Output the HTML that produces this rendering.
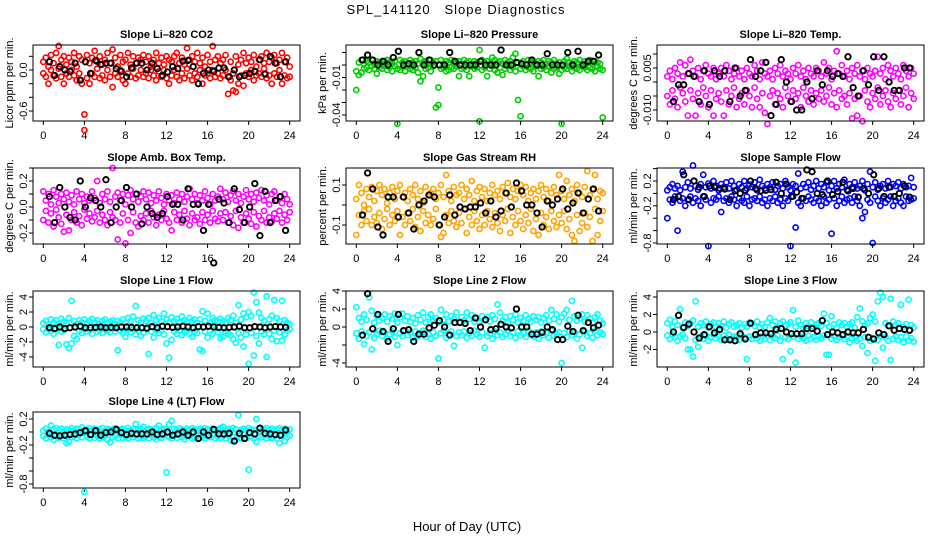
<!DOCTYPE html>
<html><head><meta charset="utf-8">
<style>
html,body{margin:0;padding:0;background:#fff;}
svg{display:block;font-family:"Liberation Sans",Arial,sans-serif;}
</style></head>
<body>
<svg id="chart" width="936" height="540" viewBox="0 0 936 540" xmlns="http://www.w3.org/2000/svg">
<rect width="936" height="540" fill="#fff"/>
<text x="456" y="14" font-size="13" letter-spacing="1" text-anchor="middle" xml:space="preserve">SPL_141120   Slope Diagnostics</text>
<text x="467" y="531" font-size="13" text-anchor="middle">Hour of Day (UTC)</text>
<g id="panels"></g>
</svg>
<script>
const hours = [0,0.25,0.5,0.75,1,1.25,1.5,1.75,2,2.25,
2.5,2.75,3,3.25,3.5,3.75,4,4.25,4.5,4.75,
5,5.25,5.5,5.75,6,6.25,6.5,6.75,7,7.25,
7.5,7.75,8,8.25,8.5,8.75,9,9.25,9.5,9.75,
10,10.25,10.5,10.75,11,11.25,11.5,11.75,12,12.25,
12.5,12.75,13,13.25,13.5,13.75,14,14.25,14.5,14.75,
15,15.25,15.5,15.75,16,16.25,16.5,16.75,17,17.25,
17.5,17.75,18,18.25,18.5,18.75,19,19.25,19.5,19.75,
20,20.25,20.5,20.75,21,21.25,21.5,21.75,22,22.25,
22.5,22.75,23,23.25,23.5,23.75,24];
const blackHours = [0.6,1.1,1.6,2.1,2.6,3.1,3.6,4.1,4.6,5.1,
5.6,6.1,6.6,7.1,7.6,8.1,8.6,9.1,9.6,10.1,
10.6,11.1,11.6,12.1,12.6,13.1,13.6,14.1,14.6,15.1,
15.6,16.1,16.6,17.1,17.6,18.1,18.6,19.1,19.6,20.1,
20.6,21.1,21.6,22.1,22.6,23.1,23.6];
const xTicks = [0,4,8,12,16,20,24];

const co2A = [0.12,0.18,0.05,0.22,0.1,0.25,0.35,0.15,0.2,0.08,0.18,0.12,0.25,0.05,0.2,0.15,-0.88,0.22,0.1,0.18,0.28,0.12,0.2,0.08,0.15,0.25,0.1,0.3,0.18,0.05,0.22,0.12,0.15,0.25,0.08,0.2,0.1,0.18,0.15,0.22,0.12,0.2,0.05,0.15,0.25,0.1,0.18,0.08,0.2,0.15,0.12,0.2,0.25,0.1,0.18,0.08,0.32,0.15,0.2,0.12,0.25,0.1,0.18,0.05,0.22,0.12,0.35,0.15,0.2,0.1,0.15,0.22,-0.35,0.12,-0.3,0.2,0.08,0.15,0.25,0.1,0.18,0.12,0.22,0.05,0.15,0.2,0.1,0.25,0.12,0.18,0.22,0.1,0.15,0.25,0.12,0.18,0.05];
const co2B = [-0.05,-0.1,-0.2,0.0,-0.08,-0.12,0.02,-0.1,-0.2,-0.05,-0.1,0.0,-0.08,-0.15,-0.05,-0.2,-0.65,-0.12,-0.2,-0.05,-0.1,0.02,-0.12,-0.08,-0.15,0.0,-0.1,-0.25,-0.05,-0.1,0.0,-0.15,-0.2,-0.05,-0.1,0.02,-0.12,-0.08,0.0,-0.1,-0.05,-0.12,0.0,-0.08,-0.15,-0.02,-0.1,0.0,-0.12,-0.2,-0.08,0.0,-0.1,-0.15,-0.05,-0.12,0.02,-0.08,-0.15,-0.05,-0.1,0.0,-0.2,-0.08,-0.05,-0.12,0.0,-0.1,-0.05,-0.12,-0.08,0.0,-0.1,-0.15,-0.05,-0.32,-0.2,-0.08,-0.23,-0.05,-0.1,0.0,-0.15,-0.08,-0.05,-0.1,0.02,-0.12,-0.08,-0.2,-0.05,-0.1,0.0,-0.2,-0.08,-0.12,-0.1];
const co2K = [0.12,-0.08,0.05,0.0,-0.02,0.1,-0.15,0.12,-0.05,0.14,0.08,0.1,0.1,0.02,-0.02,-0.1,0.03,0.1,0.1,0.0,0.1,0.02,-0.08,-0.03,0.05,0.02,0.13,0.14,0.05,-0.2,-0.05,0.0,-0.02,0.03,0.03,-0.1,0.0,-0.1,-0.08,-0.05,-0.02,0.15,-0.06,0.2,0.1,-0.1,0.12];

const presA = [-0.02,0.002,0.004,0.001,0.003,0.002,0.004,0.001,0.003,0.002,0.001,0.003,0.004,0.002,0.001,0.003,-0.047,0.004,0.002,0.003,0.001,0.004,0.002,0.003,0.001,0.005,0.002,0.003,0.001,0.004,0.002,0.003,-0.032,0.004,0.001,0.003,0.002,0.004,0.001,0.002,0.003,0.001,0.004,0.002,0.003,0.001,0.003,0.002,0.012,0.004,0.002,0.003,0.001,0.006,0.004,0.002,0.003,0.001,0.004,0.002,0.003,0.006,0.009,0.002,-0.041,0.003,0.001,0.004,0.002,0.003,0.001,0.003,0.002,0.004,0.001,0.003,0.002,0.004,0.001,0.002,-0.047,0.003,0.005,0.002,0.001,0.003,0.002,0.004,0.001,0.003,0.002,0.004,0.001,0.003,0.002,0.001,-0.042];
const presB = [-0.005,-0.008,-0.006,-0.003,-0.002,-0.004,-0.001,-0.003,-0.007,-0.002,-0.003,-0.001,-0.004,-0.002,-0.005,-0.001,-0.003,-0.004,-0.002,-0.005,-0.001,-0.003,-0.004,-0.002,-0.006,-0.013,-0.009,-0.003,-0.002,-0.005,-0.001,-0.034,-0.018,-0.003,-0.002,-0.005,-0.004,-0.002,-0.003,-0.001,-0.009,-0.003,-0.002,-0.004,-0.009,-0.001,-0.003,-0.002,-0.045,-0.004,-0.002,-0.009,-0.003,-0.001,-0.004,-0.006,-0.002,-0.008,-0.003,-0.001,-0.004,-0.002,-0.005,-0.028,-0.003,-0.001,-0.004,-0.002,-0.003,-0.005,-0.001,-0.009,-0.003,-0.002,-0.004,-0.001,-0.006,-0.003,-0.002,-0.007,-0.004,-0.002,-0.003,-0.001,-0.005,-0.002,-0.003,-0.004,-0.001,-0.002,-0.004,-0.002,-0.003,-0.005,-0.001,-0.003,-0.004];
const presK = [0.004,0.008,0.004,0.0,0.003,0.0,0.006,0.011,0.0,0.001,0.0,0.01,0.0,0.004,0.0,0.0,0.0,0.01,0.003,0.0,0.0,0.0,0.0,0.003,0.0,0.0,0.0,0.012,0.0,0.0,0.002,0.001,0.0,0.004,0.0,0.0,0.009,0.0,0.0,0.0,0.01,0.0,0.011,0.0,0.003,0.003,0.008];

const tempA = [0.002,0.004,0.001,0.005,0.003,0.007,0.002,0.006,0.003,0.008,0.004,0.002,0.005,0.001,0.004,0.006,0.003,0.002,0.005,0.001,0.003,0.005,0.002,0.006,0.004,0.001,0.003,0.005,0.002,0.004,0.001,0.005,0.003,0.002,0.006,0.004,0.001,0.007,0.003,0.002,0.004,0.001,0.005,0.003,0.006,0.002,0.004,0.003,0.001,0.005,0.003,0.006,0.002,0.004,0.001,0.005,0.003,0.002,0.005,0.004,0.002,0.007,0.003,0.005,0.001,0.004,0.011,0.003,0.006,0.002,0.004,0.001,0.005,0.003,0.006,0.002,0.004,0.001,0.005,0.003,0.002,0.004,0.009,0.003,0.005,0.001,0.006,0.004,0.002,0.005,0.003,0.001,0.006,0.004,0.002,0.005,0.003];
const tempB = [-0.005,-0.008,-0.003,-0.006,-0.009,-0.002,-0.004,-0.007,-0.012,-0.003,-0.006,-0.012,-0.004,-0.008,-0.002,-0.005,-0.009,-0.003,-0.012,-0.006,-0.004,-0.007,-0.012,-0.003,-0.008,-0.005,-0.002,-0.009,-0.006,-0.004,-0.008,-0.003,-0.005,-0.009,-0.002,-0.006,-0.009,-0.004,-0.011,-0.015,-0.005,-0.003,-0.008,-0.004,-0.006,-0.009,-0.002,-0.005,-0.007,-0.003,-0.006,-0.004,-0.009,-0.002,-0.005,-0.007,-0.003,-0.008,-0.004,-0.006,-0.003,-0.007,-0.005,-0.002,-0.008,-0.004,-0.009,-0.003,-0.006,-0.005,-0.008,-0.004,-0.013,-0.006,-0.012,-0.005,-0.014,-0.003,-0.007,-0.009,-0.004,-0.006,-0.002,-0.008,-0.005,-0.003,-0.007,-0.009,-0.004,-0.006,-0.003,-0.008,-0.005,-0.002,-0.009,-0.004,-0.006];
const tempK = [-0.007,-0.001,-0.001,0.003,0.002,-0.007,0.004,-0.008,0.004,0.002,0.004,-0.007,0.005,-0.005,-0.003,0.008,0.002,0.004,0.007,-0.012,-0.008,0.008,0.0,-0.007,-0.01,-0.01,0.0,-0.006,0.004,-0.001,0.004,0.002,0.003,0.002,0.009,-0.002,-0.005,0.004,-0.001,0.009,-0.003,0.009,0.0,-0.003,-0.003,0.005,0.005];

const ambA = [0.12,0.05,0.1,0.02,0.13,0.08,0.03,0.1,0.06,0.11,0.04,0.09,0.02,0.12,0.06,0.1,0.03,0.08,0.05,0.12,0.07,0.2,0.03,0.1,0.06,0.12,0.04,0.3,0.08,0.11,0.05,0.1,0.02,0.09,0.13,0.06,0.1,0.04,0.08,0.12,0.06,0.11,0.03,0.09,0.05,0.12,0.07,0.02,0.1,0.05,0.09,0.03,0.11,0.06,0.1,0.04,0.08,0.14,0.06,0.1,0.03,0.09,0.05,0.12,0.07,0.02,0.1,0.05,0.08,0.14,0.06,0.11,0.04,0.09,0.12,0.05,0.1,0.03,0.08,0.13,0.06,0.1,0.04,0.11,0.07,0.13,0.05,0.09,0.02,0.1,0.12,0.05,0.08,0.03,0.1,0.06,0.02];
const ambB = [-0.1,-0.03,-0.12,-0.05,-0.15,-0.02,-0.08,-0.13,-0.19,-0.06,-0.18,-0.1,-0.04,-0.12,-0.07,-0.14,-0.02,-0.09,-0.05,-0.11,-0.08,-0.03,-0.12,-0.06,-0.1,-0.14,-0.04,-0.08,-0.1,-0.25,-0.12,-0.05,-0.28,-0.1,-0.2,-0.04,-0.12,-0.15,-0.07,-0.1,-0.05,-0.12,-0.03,-0.08,-0.14,-0.06,-0.1,-0.03,-0.09,-0.12,-0.18,-0.04,-0.1,-0.06,-0.12,-0.03,-0.09,-0.14,-0.05,-0.1,-0.08,-0.13,-0.04,-0.1,-0.06,-0.12,-0.03,-0.09,-0.11,-0.05,-0.1,-0.04,-0.12,-0.07,-0.14,-0.03,-0.16,-0.08,-0.12,-0.05,-0.09,-0.13,-0.04,-0.15,-0.07,-0.1,-0.03,-0.12,-0.08,-0.11,-0.05,-0.09,-0.03,-0.12,-0.06,-0.1,-0.04];
const ambK = [0.08,-0.12,0.15,0.0,-0.08,-0.1,0.2,0.0,0.07,0.05,0.0,0.21,-0.12,0.0,0.05,0.15,0.0,0.1,-0.13,0.0,-0.05,-0.08,-0.05,0.08,0.02,0.02,-0.1,0.14,0.02,0.02,-0.18,0.02,-0.43,0.06,0.03,-0.12,0.14,-0.02,-0.12,0.0,0.18,-0.22,0.12,-0.12,0.05,0.08,-0.18];

const rhA = [0.03,0.1,0.06,0.0,0.08,0.04,0.09,0.02,0.07,0.1,0.05,0.08,0.01,0.06,0.09,0.03,0.07,0.1,0.04,0.06,0.02,0.08,0.05,0.1,0.03,0.07,0.01,0.09,0.05,0.06,0.08,0.03,0.06,0.1,0.04,0.15,0.07,0.02,0.09,0.05,0.06,0.1,0.03,0.08,0.05,0.12,0.02,0.07,0.09,0.04,0.08,0.02,0.06,0.1,0.05,0.07,0.03,0.09,0.06,0.11,0.04,0.08,0.03,0.07,0.1,0.05,0.09,0.02,0.06,0.08,0.03,0.07,0.1,0.04,0.08,0.02,0.06,0.09,0.05,0.15,0.07,0.03,0.12,0.05,0.08,0.02,0.1,0.06,0.04,0.09,0.17,0.05,0.08,0.15,0.03,0.07,0.06];
const rhB = [-0.15,-0.05,-0.1,-0.03,-0.08,-0.02,-0.1,-0.06,-0.09,-0.04,-0.12,-0.07,-0.02,-0.1,-0.05,-0.08,-0.03,-0.15,-0.06,-0.1,-0.04,-0.08,-0.02,-0.11,-0.06,-0.13,-0.03,-0.09,-0.05,-0.1,-0.07,-0.02,-0.1,-0.16,-0.14,-0.05,-0.09,-0.03,-0.08,-0.11,-0.04,-0.09,-0.02,-0.14,-0.06,-0.1,-0.03,-0.08,-0.12,-0.05,-0.1,-0.03,-0.07,-0.11,-0.04,-0.09,-0.13,-0.05,-0.08,-0.02,-0.14,-0.06,-0.1,-0.03,-0.08,-0.12,-0.05,-0.09,-0.02,-0.13,-0.07,-0.15,-0.04,-0.1,-0.06,-0.12,-0.03,-0.08,-0.11,-0.05,-0.09,-0.03,-0.12,-0.07,-0.15,-0.18,-0.05,-0.13,-0.09,-0.04,-0.11,-0.06,-0.18,-0.02,-0.15,-0.08,-0.03];
const rhK = [-0.05,0.16,0.08,-0.11,-0.15,0.04,0.04,-0.06,0.04,-0.04,-0.12,0.0,0.02,0.05,0.04,-0.1,-0.06,0.05,-0.05,-0.01,-0.02,-0.01,-0.01,0.01,-0.04,0.02,-0.06,-0.03,0.06,-0.01,0.11,0.07,0.0,0.0,-0.04,-0.11,0.02,0.0,0.03,0.08,-0.02,0.01,0.06,-0.04,0.03,0.08,-0.03];

const flowA = [0.05,0.1,0.15,0.08,0.12,0.05,0.35,0.1,0.18,0.08,0.45,0.12,0.06,0.15,0.3,0.1,0.16,0.08,0.2,0.12,0.05,0.15,0.1,0.18,0.08,0.2,0.12,0.06,0.15,0.1,0.2,0.08,0.14,0.1,0.18,0.05,0.22,0.12,0.08,0.15,0.1,0.18,0.06,0.12,0.15,0.08,0.2,0.1,0.05,0.15,0.12,0.32,0.08,0.15,0.1,0.18,0.06,0.12,0.2,0.08,0.15,0.1,0.18,0.05,0.12,0.2,0.08,0.15,0.1,0.22,0.06,0.15,0.1,0.18,0.08,0.12,0.2,0.05,0.15,0.35,0.1,0.18,0.06,0.12,0.15,0.08,0.2,0.1,0.15,0.12,0.18,0.08,0.15,0.1,0.12,0.25,0.1];
const flowB = [-0.4,-0.1,-0.15,-0.05,-0.6,-0.12,-0.08,-0.2,-0.1,-0.05,-0.15,-0.08,-0.12,-0.2,-0.05,-0.1,-0.85,-0.15,-0.08,-0.1,-0.05,-0.3,-0.12,-0.08,-0.15,-0.05,-0.1,-0.2,-0.08,-0.12,-0.15,-0.05,-0.2,-0.1,-0.08,-0.12,-0.05,-0.15,-0.1,-0.2,-0.08,-0.12,-0.05,-0.15,-0.1,-0.2,-0.08,-0.12,-0.85,-0.05,-0.55,-0.15,-0.2,-0.08,-0.12,-0.05,-0.1,-0.15,-0.08,-0.12,-0.2,-0.05,-0.15,-0.1,-0.65,-0.08,-0.2,-0.12,-0.05,-0.15,-0.1,-0.08,-0.15,-0.05,-0.12,-0.2,-0.4,-0.3,-0.1,-0.15,-0.8,-0.05,-0.12,-0.2,-0.08,-0.15,-0.1,-0.05,-0.2,-0.12,-0.08,-0.15,-0.2,-0.05,-0.12,-0.1,-0.08];
const flowK = [-0.1,-0.05,0.3,-0.1,0.2,0.1,-0.05,0.12,0.1,0.08,0.07,-0.1,0.04,0.0,0.05,0.2,0.08,0.04,0.05,0.06,0.18,0.0,0.15,-0.05,0.02,-0.08,0.38,0.35,0.0,-0.02,0.2,-0.02,0.03,0.18,0.04,0.08,-0.06,0.08,0.0,0.3,0.08,-0.05,0.1,-0.05,0.0,0.12,-0.06];

const l1A = [0.5,0.8,0.3,1.0,0.6,0.9,0.4,1.1,0.7,0.5,1.2,3.5,0.8,0.4,0.9,0.6,1.0,0.5,0.8,1.1,0.6,0.9,0.4,0.8,1.0,0.5,0.7,0.9,0.4,0.8,0.6,1.0,0.5,1.2,0.8,1.4,2.8,0.9,0.6,1.1,0.8,1.2,0.5,1.6,0.9,1.2,0.7,1.8,1.0,0.6,1.3,0.8,1.1,0.6,1.4,0.9,0.7,1.2,0.8,1.0,0.6,1.0,2.1,0.8,1.8,0.5,1.2,0.9,0.7,1.1,0.8,0.5,1.2,0.9,1.5,0.6,2.9,1.0,1.8,1.3,2.0,1.5,4.6,3.3,1.9,1.2,0.8,4.1,1.0,1.5,3.6,1.2,0.8,3.5,0.9,0.6,0.4];
const l1B = [-0.3,-0.7,-0.2,-0.5,-0.9,-0.3,-2.4,-0.6,-0.4,-2.3,-2.8,-2.2,-1.2,-1.6,-0.5,-0.8,-0.3,-0.6,-0.4,-0.9,-0.2,-0.6,-0.4,-0.8,-0.3,-0.5,-0.7,-0.2,-0.6,-3.1,-0.5,-0.8,-1.3,-0.4,-0.7,-0.3,-1.0,-0.5,-1.2,-0.8,-0.3,-3.6,-0.6,-1.4,-0.4,-0.8,-0.5,-1.0,-2.2,-4.1,-1.7,-0.6,-0.9,-0.4,-1.1,-0.7,-0.5,-0.9,-1.3,-0.6,-0.8,-3.0,-3.2,-0.6,-1.4,-0.5,-0.9,-0.3,-0.7,-1.5,-1.3,-0.6,-0.9,-1.1,-1.6,-2.1,-0.8,-1.4,-2.6,-1.0,-4.9,-0.8,-3.8,-1.2,-2.2,-0.6,-1.0,-4.0,-0.9,-1.6,-0.5,-1.9,-0.7,-1.8,-1.0,-0.4,-0.3];
const l1K = [-0.1,-0.2,0.0,-0.2,-0.1,0.0,0.1,-0.1,-0.1,-0.05,0.0,-0.1,-0.05,-0.1,0.0,0.0,-0.05,-0.1,-0.1,-0.15,0.05,-0.1,0.1,0.05,-0.05,0.0,0.1,0.0,-0.1,0.05,0.0,0.1,0.0,-0.05,-0.1,-0.05,0.0,0.1,-0.1,-0.1,0.05,0.0,-0.1,0.0,0.05,0.0,-0.05];

const l2A = [2.2,1.0,0.6,1.4,0.8,3.3,1.8,0.5,1.2,0.7,1.0,1.4,0.6,1.2,0.9,1.5,0.5,1.1,1.5,0.7,1.2,0.6,1.0,0.4,1.3,0.8,1.6,0.5,1.1,1.4,0.7,1.0,0.5,1.9,0.8,1.4,0.6,1.2,0.9,1.6,0.5,1.1,0.7,1.6,0.9,1.3,0.6,1.0,0.5,1.2,0.8,1.1,0.6,1.3,0.9,2.5,1.6,0.7,1.1,0.5,1.2,0.8,1.4,0.5,1.0,0.7,1.3,0.9,0.6,1.2,0.8,1.1,0.5,1.0,1.3,0.7,1.9,0.9,1.4,0.6,1.1,1.5,1.9,0.8,2.9,1.2,0.7,1.0,1.4,0.6,1.3,0.9,0.5,1.1,1.4,0.7,0.4];
const l2B = [-0.7,-1.3,-0.5,-1.9,-1.0,-0.6,-2.5,-1.2,-0.8,-0.4,-1.0,-0.6,-1.3,-0.8,-0.5,-1.1,-2.0,-0.7,-1.0,-0.4,-0.9,-0.6,-1.2,-0.5,-1.0,-0.7,-0.4,-1.1,-0.8,-1.3,-0.6,-1.0,-3.5,-0.7,-0.4,-1.2,-0.8,-0.5,-2.1,-1.0,-0.6,-0.9,-0.5,-1.2,-0.7,-1.0,-0.4,-0.8,-1.1,-0.6,-2.3,-1.0,-0.7,-1.3,-0.5,-0.9,-0.6,-1.1,-0.8,-0.4,-1.0,-0.6,-1.2,-0.5,-0.9,-0.7,-1.1,-0.4,-0.8,-1.0,-0.6,-1.3,-0.5,-0.9,-0.7,-1.2,-0.4,-1.0,-0.8,-0.6,-4.0,-0.7,-1.1,-0.5,-0.9,-0.6,-1.3,-0.8,-2.3,-0.5,-1.0,-0.7,-1.2,-0.4,-0.9,-0.6,-0.8];
const l2K = [-0.9,3.7,-0.2,1.4,-0.5,-1.6,-0.2,1.4,-0.4,-0.3,-1.6,-0.8,-0.8,-0.1,0.2,0.7,0.0,-0.9,0.5,0.5,0.4,-0.4,1.0,0.0,0.8,-0.3,-0.2,0.3,0.0,-0.1,2.0,0.0,0.0,-0.8,-0.8,-0.6,0.0,-0.3,-1.4,-1.4,0.1,-0.5,1.3,-0.4,0.5,-0.1,0.2];

const l3A = [1.0,1.4,0.6,1.2,0.8,2.6,0.5,1.1,0.7,1.0,1.3,3.5,0.6,1.0,0.8,1.2,0.5,0.9,1.1,0.6,1.0,0.7,1.2,0.5,0.9,1.1,0.6,0.8,1.0,0.5,0.9,0.6,1.1,1.0,0.7,1.2,0.5,0.9,0.6,1.1,1.6,0.8,1.2,0.5,1.0,1.2,0.7,0.9,1.1,2.5,0.6,1.3,0.8,0.5,1.0,0.7,1.1,0.6,0.9,1.0,0.7,2.1,1.0,0.6,1.8,0.9,0.5,1.1,0.8,1.0,0.6,0.9,1.1,0.5,1.7,2.7,1.2,0.8,1.0,1.6,2.0,1.2,3.5,4.5,4.0,1.0,0.7,3.8,1.2,0.8,1.0,3.1,0.6,0.9,3.7,0.8,0.5];
const l3B = [-0.4,-0.8,-0.3,-0.6,-1.0,-0.5,-0.3,-0.7,-2.0,-2.0,-2.8,-0.9,-1.7,-0.5,-0.8,-0.4,-1.0,-0.6,-0.3,-0.7,-0.5,-0.9,-0.4,-0.7,-0.3,-0.8,-0.5,-0.6,-0.9,-0.4,-0.6,-3.1,-0.5,-0.8,-0.4,-0.7,-1.0,-0.5,-0.8,-0.4,-0.9,-0.5,-0.7,-0.4,-1.0,-3.1,-0.6,-0.8,-2.2,-0.5,-3.5,-0.8,-0.5,-0.7,-1.0,-0.4,-0.8,-0.6,-0.9,-0.5,-0.7,-0.4,-2.6,-2.6,-0.8,-0.5,-0.9,-0.6,-0.4,-0.8,-0.5,-1.2,-0.7,-0.5,-1.0,-0.8,-1.6,-0.6,-2.4,-1.0,-0.7,-3.3,-0.9,-0.5,-1.8,-0.6,-1.0,-3.2,-0.8,-0.5,-0.9,-0.6,-1.2,-0.5,-1.0,-0.7,-1.1];
const l3K = [0.0,1.9,0.5,0.9,0.0,-0.7,-0.3,0.6,-0.1,0.3,-0.9,-0.9,-1.0,-0.2,-0.8,1.0,-0.3,-0.1,-0.1,-0.2,0.3,0.4,0.0,-0.2,-0.2,-0.2,0.4,0.4,0.1,1.3,-0.3,0.0,-0.1,-0.3,0.0,-0.1,-0.1,0.3,-0.6,-0.8,-0.1,-0.3,0.7,0.2,0.4,0.3,0.2];

const l4A = [0.02,0.05,0.0,0.1,0.04,0.06,0.03,0.05,0.01,0.04,0.03,0.06,0.02,0.05,0.04,0.07,0.01,0.03,0.06,0.02,0.05,0.03,0.04,0.06,0.02,0.05,0.03,0.04,0.06,0.02,0.04,0.05,0.03,0.06,0.02,0.04,0.12,0.03,0.05,0.08,0.03,0.05,0.04,0.02,0.06,0.1,0.03,0.05,0.04,0.12,0.17,0.05,0.03,0.06,0.04,0.02,0.05,0.03,0.06,0.04,0.02,0.05,0.03,0.06,0.04,0.02,0.05,0.03,0.04,0.06,0.08,0.03,0.05,0.02,0.06,0.04,0.26,0.03,0.05,0.02,0.06,0.04,0.03,0.2,0.05,0.02,0.04,0.06,0.03,0.05,0.02,0.04,0.06,0.03,0.05,0.02,0.04];
const l4B = [-0.06,-0.1,-0.05,-0.08,-0.12,-0.06,-0.09,-0.05,-0.1,-0.17,-0.15,-0.08,-0.06,-0.1,-0.05,-0.08,-0.92,-0.07,-0.1,-0.05,-0.09,-0.06,-0.1,-0.08,-0.05,-0.12,-0.16,-0.08,-0.06,-0.1,-0.05,-0.09,-0.07,-0.1,-0.06,-0.08,-0.05,-0.1,-0.07,-0.09,-0.06,-0.1,-0.05,-0.08,-0.11,-0.07,-0.09,-0.05,-0.62,-0.08,-0.1,-0.06,-0.09,-0.05,-0.08,-0.11,-0.07,-0.06,-0.1,-0.08,-0.05,-0.09,-0.07,-0.1,-0.06,-0.08,-0.05,-0.1,-0.07,-0.09,-0.06,-0.1,-0.05,-0.13,-0.08,-0.12,-0.06,-0.09,-0.05,-0.1,-0.58,-0.07,-0.1,-0.15,-0.06,-0.08,-0.05,-0.1,-0.07,-0.09,-0.06,-0.1,-0.17,-0.05,-0.14,-0.08,-0.06];
const l4K = [-0.02,-0.05,-0.06,-0.05,-0.04,-0.03,-0.01,0.02,-0.04,0.02,-0.05,-0.01,0.0,0.04,-0.01,-0.04,-0.02,-0.03,-0.03,-0.03,0.0,-0.04,-0.03,0.0,-0.05,-0.03,0.0,-0.05,0.0,-0.1,0.0,-0.05,0.04,-0.03,-0.03,-0.02,-0.14,-0.02,-0.1,-0.01,-0.03,0.06,-0.02,-0.03,-0.04,-0.05,0.03];

const panels = [
 {name:'co2', title:'Slope Li\u2013820 CO2', ylab:'Licor ppm per min.', L:33, T:45, ref:[0,70,-0.6,111], ticks:[0.2,0,-0.2,-0.4,-0.6], labels:['','0.0','','','-0.6'], color:'#ff0000', A:co2A, B:co2B, K:co2K},
 {name:'pressure', title:'Slope Li\u2013820 Pressure', ylab:'kPa per min.', L:346, T:45, ref:[0,65,-0.04,115], ticks:[0.01,0,-0.01,-0.02,-0.03,-0.04], labels:['','','-0.01','','','-0.04'], color:'#00cc00', A:presA, B:presB, K:presK},
 {name:'li820-temp', title:'Slope Li\u2013820 Temp.', ylab:'degrees C per min.', L:657, T:45, ref:[0,82,-0.01,110], ticks:[0.01,0.005,0,-0.005,-0.01], labels:['','0.005','','','-0.010'], color:'#ff00ff', A:tempA, B:tempB, K:tempK},
 {name:'amb-box-temp', title:'Slope Amb. Box Temp.', ylab:'degrees C per min.', L:33, T:168, ref:[0,207,-0.2,233], ticks:[0.3,0.2,0.1,0,-0.1,-0.2], labels:['','0.2','','0.0','','-0.2'], color:'#ff00ff', A:ambA, B:ambB, K:ambK},
 {name:'gas-stream-rh', title:'Slope Gas Stream RH', ylab:'percent per min.', L:346, T:168, ref:[0.1,185,-0.1,225], ticks:[0.1,0,-0.1], labels:['0.1','','-0.1'], color:'#ffa200', A:rhA, B:rhB, K:rhK},
 {name:'sample-flow', title:'Slope Sample Flow', ylab:'ml/min per min.', L:657, T:168, ref:[0.2,181,-0.8,243], ticks:[0.4,0.2,0,-0.2,-0.4,-0.6,-0.8], labels:['','0.2','','-0.2','','','-0.8'], color:'#0000ff', A:flowA, B:flowB, K:flowK},
 {name:'line1-flow', title:'Slope Line 1 Flow', ylab:'ml/min per min.', L:33, T:291, ref:[0,327,4,297], ticks:[4,2,0,-2,-4], labels:['4','2','0','-2','-4'], color:'#00ffff', A:l1A, B:l1B, K:l1K},
 {name:'line2-flow', title:'Slope Line 2 Flow', ylab:'ml/min per min.', L:346, T:291, ref:[0,327,4,291], ticks:[4,2,0,-2,-4], labels:['4','2','0','','-4'], color:'#00ffff', A:l2A, B:l2B, K:l2K},
 {name:'line3-flow', title:'Slope Line 3 Flow', ylab:'ml/min per min.', L:657, T:291, ref:[0,332,4,297], ticks:[4,2,0,-2], labels:['4','2','0','-2'], color:'#00ffff', A:l3A, B:l3B, K:l3K},
 {name:'line4-flow', title:'Slope Line 4 (LT) Flow', ylab:'ml/min per min.', L:33, T:412, ref:[0.2,419,-0.8,484], ticks:[0.2,0,-0.2,-0.4,-0.6,-0.8], labels:['0.2','','-0.2','','','-0.8'], color:'#00ffff', A:l4A, B:l4B, K:l4K}
];

const NS = 'http://www.w3.org/2000/svg';
const root = document.getElementById('panels');
const W = 267, H = 76;
function mk(tag, attrs, parent){
  const e = document.createElementNS(NS, tag);
  for (const k in attrs) e.setAttribute(k, attrs[k]);
  parent.appendChild(e);
  return e;
}
panels.forEach(p => {
  const g = mk('g', {}, root);
  
  
  const xs = h => p.L + 10.3 + h * (W - 20.6) / 24;
  const [v1, p1, v2, p2] = p.ref;
  const ys = v => p1 + (v - v1) * (p2 - p1) / (v2 - v1);
  const B = p.T + H;
  const t = mk('text', {x: p.L + W/2, y: p.T - 7, 'font-size': 11, 'font-weight': 'bold', 'text-anchor': 'middle'}, g);
  t.textContent = p.title;
  
  
  const yl = mk('text', {x: 0, y: 0, 'font-size': 11, 'text-anchor': 'middle', transform: `translate(${p.L - 20},${p.T + H/2}) rotate(-90)`}, g);
  yl.textContent = p.ylab;
  
  
  const xa = mk('g', {}, g);
  
  
  mk('line', {x1: xs(xTicks[0]), x2: xs(xTicks[xTicks.length-1]), y1: B, y2: B, stroke: '#000'}, xa);
  xTicks.forEach(h => {
    mk('line', {x1: xs(h), x2: xs(h), y1: B, y2: B + 4, stroke: '#000'}, xa);
    const tx = mk('text', {x: xs(h), y: B + 18, 'font-size': 11, 'text-anchor': 'middle'}, xa);
    tx.textContent = h;
  });
  const ya = mk('g', {}, g);
  
  
  mk('line', {x1: p.L, x2: p.L, y1: ys(p.ticks[0]), y2: ys(p.ticks[p.ticks.length-1]), stroke: '#000'}, ya);
  p.ticks.forEach((v, i) => {
    mk('line', {x1: p.L - 4, x2: p.L, y1: ys(v), y2: ys(v), stroke: '#000'}, ya);
    if (p.labels[i]) {
      const ty = mk('text', {x: 0, y: 0, 'font-size': 11, 'text-anchor': 'middle', transform: `translate(${p.L - 6},${ys(v)}) rotate(-90)`}, ya);
      ty.textContent = p.labels[i];
    }
  });
  const pts = mk('g', {fill: 'none', 'stroke-width': 1.6}, g);
  
  
  [p.A, p.B].forEach(arr => {
    arr.forEach((v, i) => {
      const c = mk('circle', {cx: xs(hours[i]), cy: ys(v), r: 2.6, stroke: p.color}, pts);
      
      
    });
  });
  p.K.forEach((v, i) => {
    const c = mk('circle', {cx: xs(blackHours[i]), cy: ys(v), r: 2.7, stroke: '#000', 'stroke-width': 1.9}, pts);
    
    
  });
  const box = mk('rect', {x: p.L, y: p.T, width: W, height: H, fill: 'none', stroke: '#000'}, g);
  
  
});
</script>
</body></html>
